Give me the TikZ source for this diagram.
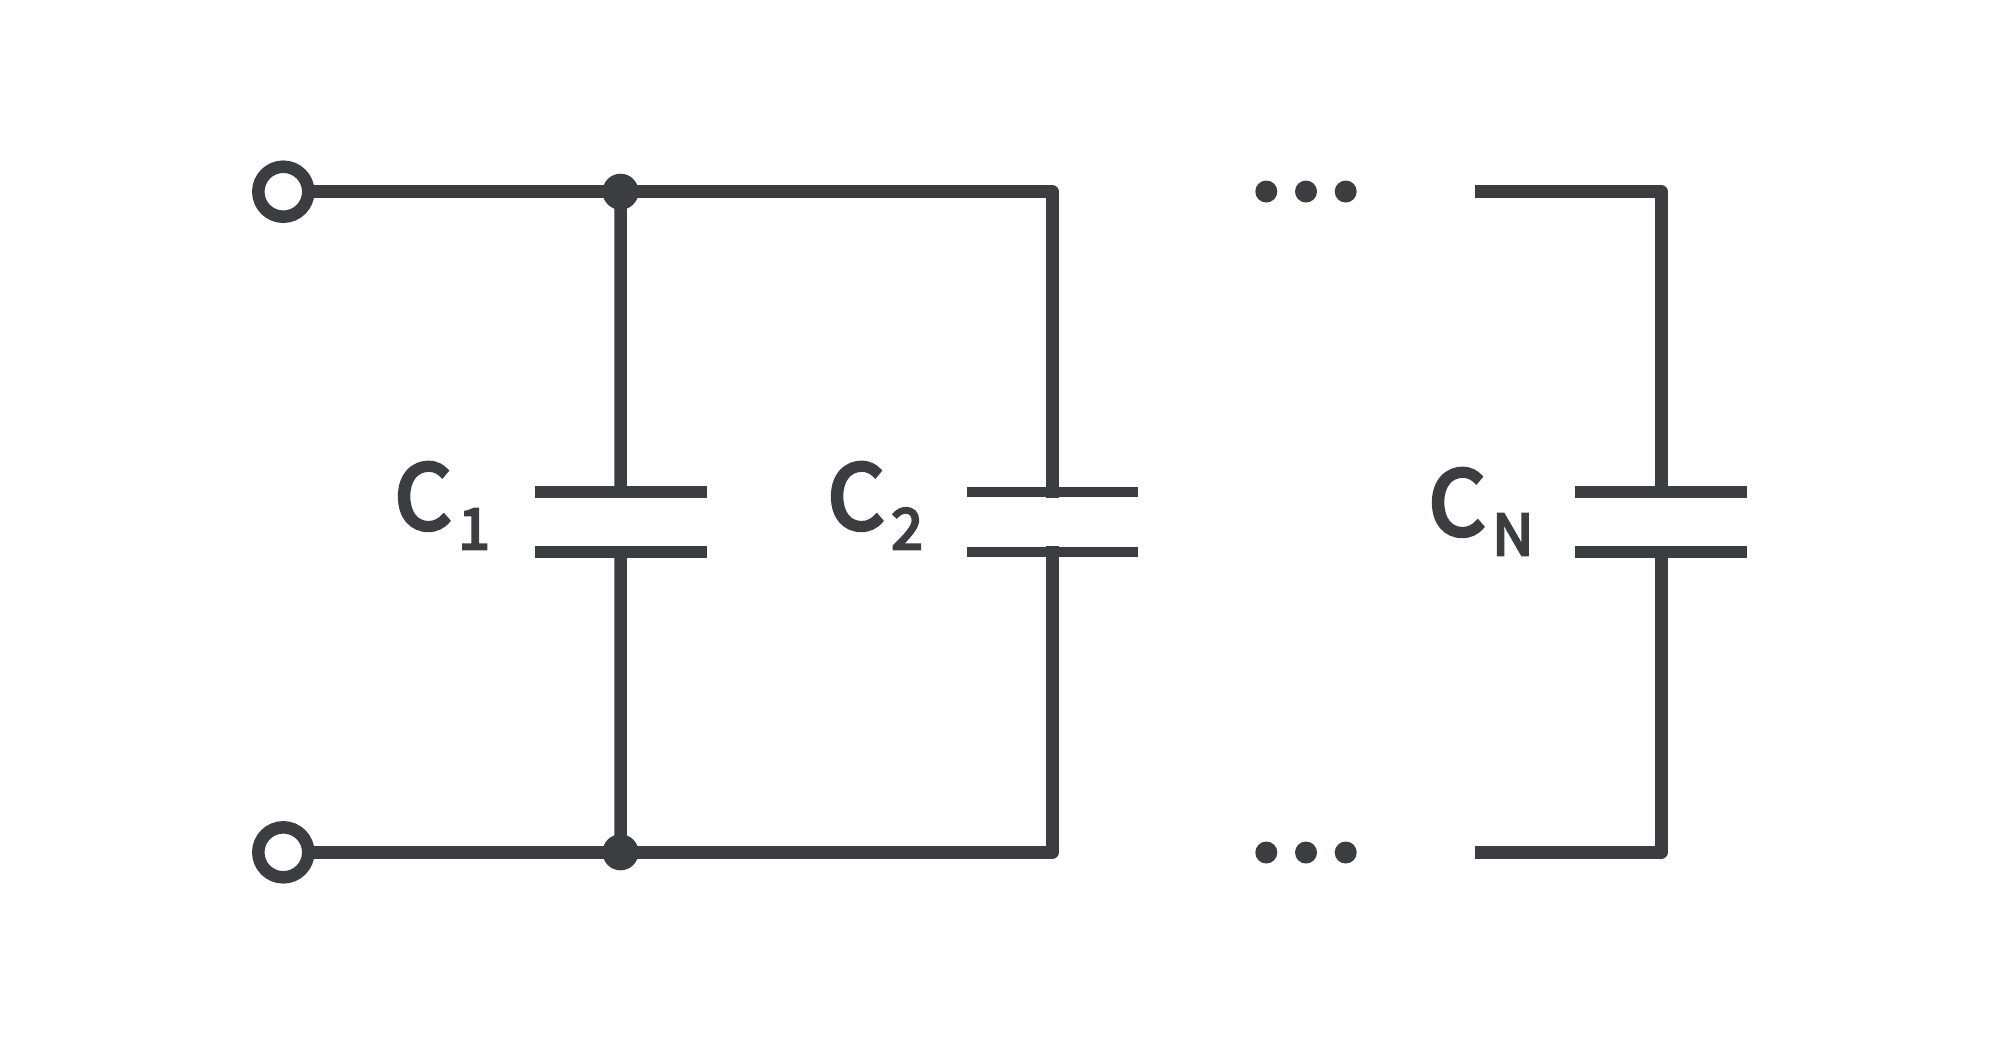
\documentclass[tikz,border=0pt]{standalone}
\usepackage{fontspec}
\newfontfamily\labelfont[FakeBold=4.5]{Noto Sans CJK SC}
\definecolor{wirecol}{HTML}{3C3D41}
\tikzset{
  wire/.style={draw=wirecol, line width=0.125cm, line join=round},
  terminal/.style={circle, draw=wirecol, fill=white, line width=0.125cm, minimum size=0.5cm, inner sep=0pt, outer sep=0pt},
  junction/.style={circle, fill=wirecol, minimum size=0.36cm, inner sep=0pt, outer sep=0pt},
  moredot/.style={circle, fill=wirecol, minimum size=0.22cm, inner sep=0pt, outer sep=0pt},
  plate/.style={rectangle, fill=wirecol, minimum width=#1, minimum height=0.12cm, inner sep=0pt, outer sep=0pt},
  plate/.default=1.72cm,
  caplabel/.style={anchor=base west, inner sep=0pt, text=wirecol}
}
\newcommand{\capname}[1]{{\fontsize{25.3pt}{30pt}\selectfont C}\kern0.07cm\raisebox{-0.2cm}{\fontsize{16pt}{20pt}\selectfont #1}}
\begin{document}
\begin{tikzpicture}[x=0.01cm, y=-0.01cm, labelfont/.code={\labelfont}]
\useasboundingbox (0,0) rectangle (2000,1044);
\node[terminal] (ina) at (283.3,191.7) {};
\node[terminal] (inb) at (283.3,852.3) {};
\node[junction] (joina) at (620.5,191.7) {};
\node[junction] (joinb) at (620.5,852.3) {};
\node[plate] (c1top) at (620.7,492) {};
\node[plate] (c1bot) at (620.7,552) {};
\node[plate=1.7cm, minimum height=0.1cm, outer sep=0.2pt] (c2top) at (1052.5,492) {};
\node[plate=1.7cm, minimum height=0.1cm, outer sep=0.2pt] (c2bot) at (1052.5,552) {};
\node[plate] (cntop) at (1661.3,492) {};
\node[plate] (cnbot) at (1661.3,552) {};
\coordinate (opena) at (1474.7,191.7);
\coordinate (openb) at (1474.7,852.3);
\draw[wire] (ina) -- (joina.center);
\draw[wire] (inb) -- (joinb.center);
\draw[wire] (joina.center) -- (c1top.center);
\draw[wire] (joinb.center) -- (c1bot.center);
\draw[wire] (joina.center) -| (c2top.south);
\draw[wire] (joinb.center) -| (c2bot.north);
\draw[wire] (opena) -| (cntop.center);
\draw[wire] (openb) -| (cnbot.center);
\foreach \x/\n in {1266.3/1,1306/2,1345.7/3} {
  \node[moredot] (dota\n) at (\x,191.5) {};
  \node[moredot] (dotb\n) at (\x,852.5) {};
}
\node[caplabel, labelfont] (c1label) at (394,529) {\capname{1}};
\node[caplabel, labelfont] (c2label) at (827,529) {\capname{2}};
\node[caplabel, labelfont] (cnlabel) at (1428,535) {\capname{N}};
\end{tikzpicture}
\end{document}
